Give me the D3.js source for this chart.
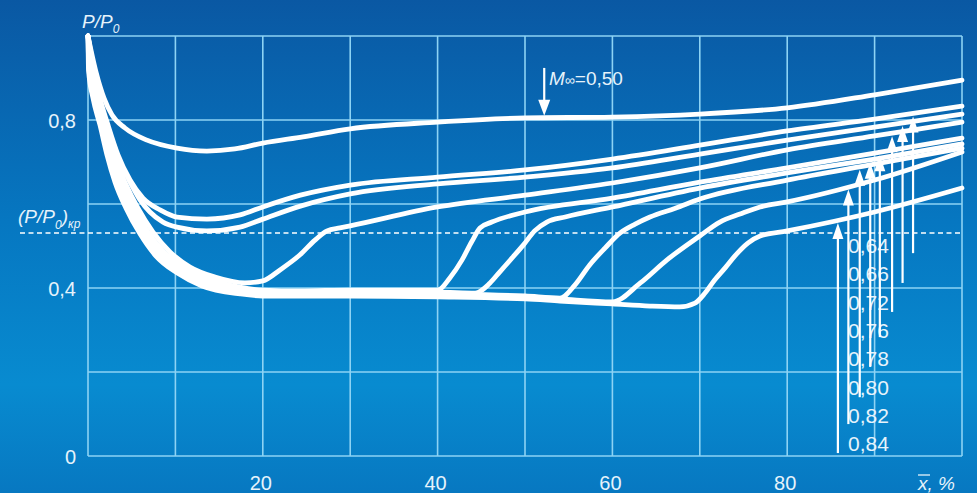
<!DOCTYPE html>
<html>
<head>
<meta charset="utf-8">
<script src="https://cdn.jsdelivr.net/npm/d3@7"></script>
<style>
  html, body { margin: 0; padding: 0; overflow: hidden; background: #0a6fb8; }
  svg { display: block; }
  text { fill: #e6f3fb; font-family: "Liberation Sans Narrow", "Liberation Sans", Arial, sans-serif; }
</style>
</head>
<body>
<div id="chart"></div>
<script>
/*** DADOS : x = x̄ em %, y = P/P0 ***/

var m050 = [[0, 1.0], [0.92, 0.914], [1.83, 0.852], [2.75, 0.812], [4.23, 0.781], [6.75, 0.752], [10.18, 0.733],
    [13.6, 0.726], [16.8, 0.731], [20, 0.745], [24.6, 0.760], [30, 0.779], [40, 0.795], [50, 0.805],
    [60, 0.807], [70, 0.814], [80, 0.829], [90, 0.860], [100, 0.895]];

var m064 = [[0, 1.0], [0.69, 0.919], [1.37, 0.852], [2.29, 0.788], [3.43, 0.717], [4.81, 0.657], [6.29, 0.614],
    [8.24, 0.586], [10.18, 0.569], [13.6, 0.564], [17.4, 0.574], [20, 0.593], [24.3, 0.621], [30, 0.645],
    [40, 0.664], [50, 0.681], [60, 0.707], [70, 0.740], [80, 0.774], [90, 0.802], [100, 0.833]];

var m066 = [[0, 1.0], [0.57, 0.919], [1.26, 0.852], [2.17, 0.788], [3.32, 0.717], [4.69, 0.657], [5.95, 0.610],
    [7.09, 0.581], [8.58, 0.557], [10.18, 0.545], [13.6, 0.536], [17.4, 0.545], [20, 0.564], [24.3, 0.595],
    [30, 0.624], [40, 0.648], [50, 0.664], [60, 0.686], [70, 0.719], [80, 0.752], [90, 0.783], [100, 0.814]];

var m072 = [[0, 1.0], [0.57, 0.919], [1.14, 0.852], [1.95, 0.788], [2.97, 0.717], [4.23, 0.652], [5.72, 0.590],
    [7.44, 0.533], [9.38, 0.486], [11.67, 0.450], [14.53, 0.426], [17.96, 0.412], [20, 0.417], [21.97, 0.443],
    [24.26, 0.479], [25.97, 0.514], [27.35, 0.536], [28.83, 0.543], [30, 0.548], [40, 0.593], [50, 0.621],
    [60, 0.650], [70, 0.686], [80, 0.729], [90, 0.762], [100, 0.795]];

var m076 = [[0, 1.0], [0.46, 0.919], [1.03, 0.852], [1.83, 0.788], [2.75, 0.717], [3.89, 0.652], [5.26, 0.590],
    [6.86, 0.533], [8.70, 0.486], [11.1, 0.448], [13.96, 0.421], [17.39, 0.402], [20, 0.395], [24.26, 0.393],
    [30, 0.395], [35.7, 0.395], [40, 0.395], [41.4, 0.424], [42.8, 0.467], [43.9, 0.510], [44.85, 0.543],
    [46.2, 0.557], [50, 0.581], [60, 0.614], [70, 0.652], [80, 0.686], [90, 0.721], [100, 0.757]];

var m078 = [[0, 1.0], [0.34, 0.919], [0.92, 0.852], [1.72, 0.788], [2.63, 0.717], [3.66, 0.652], [5.03, 0.590],
    [6.64, 0.533], [8.47, 0.486], [10.87, 0.445], [13.73, 0.417], [17.39, 0.398], [20, 0.390], [24.26, 0.388],
    [30, 0.390], [40, 0.390], [44.3, 0.388], [46, 0.412], [47.1, 0.438], [48.5, 0.471], [49.8, 0.502],
    [51.1, 0.536], [52.5, 0.557], [54.6, 0.569], [60, 0.593], [70, 0.638], [80, 0.674], [90, 0.707], [100, 0.743]];

var m080 = [[0, 1.0], [0.23, 0.919], [0.80, 0.852], [1.60, 0.788], [2.52, 0.717], [3.55, 0.652], [4.81, 0.590],
    [6.41, 0.533], [8.24, 0.483], [10.64, 0.443], [13.5, 0.412], [17.39, 0.393], [20, 0.388], [30, 0.388],
    [40, 0.386], [50, 0.381], [54, 0.376], [55.7, 0.407], [57.4, 0.455], [59.15, 0.495], [60.9, 0.531],
    [62.6, 0.552], [64.3, 0.569], [67.2, 0.590], [70, 0.612], [80, 0.657], [90, 0.695], [100, 0.733]];

var m082 = [[0, 1.0], [0.11, 0.919], [0.69, 0.852], [1.49, 0.788], [2.40, 0.717], [3.32, 0.652], [4.58, 0.590],
    [6.18, 0.531], [8.0, 0.481], [10.4, 0.440], [13.27, 0.410], [17.39, 0.390], [20, 0.386], [30, 0.386],
    [40, 0.383], [50, 0.379], [54, 0.374], [60, 0.367], [63.2, 0.412], [66.25, 0.467], [70, 0.524],
    [72.3, 0.557], [74.6, 0.576], [76.9, 0.593], [80, 0.605], [90, 0.657], [100, 0.724]];

var m084 = [[0, 1.0], [0.06, 0.919], [0.57, 0.852], [1.37, 0.788], [2.17, 0.717], [3.09, 0.652], [4.35, 0.590],
    [5.95, 0.529], [7.78, 0.476], [10.18, 0.436], [13.04, 0.405], [17.39, 0.386], [20, 0.381], [30, 0.381],
    [40, 0.379], [50, 0.374], [54, 0.369], [60, 0.362], [64.3, 0.357], [67.7, 0.355], [69.45, 0.364],
    [70.6, 0.388], [71.7, 0.419], [72.9, 0.448], [74.0, 0.476], [75.5, 0.507], [76.9, 0.524], [80, 0.536],
    [90, 0.581], [100, 0.638]];

// curvas com seta em baixo (da direita para a esquerda)
var setaCurvas = [m064, m066, m072, m076, m078, m080, m082, m084];
var setaLabels = ["0,64", "0,66", "0,72", "0,76", "0,78", "0,80", "0,82", "0,84"];
var setaX = [94.4, 93.2, 92.0, 90.6, 89.5, 88.3, 87.0, 85.8];
var setaFundo = [0.483, 0.412, 0.343, 0.283, 0.212, 0.140, 0.076, 0.007];

// seta da curva M=0,50
var seta050X = 52.2;
var seta050Topo = 0.924;

var xTicks = [20, 40, 60, 80];
var yTicks = [0.8, 0.4, 0];
var pCrit = 0.531;

/*** DESENHO ***/
var width = 977;
var height = 493;

var x = d3.scaleLinear().domain([0, 100]).range([88, 962]);
var y = d3.scaleLinear().domain([0, 1]).range([456, 36]);

var svg = d3.select('#chart').append('svg')
    .attr('width', width)
    .attr('height', height);

var grad = svg.append('defs').append('linearGradient')
    .attr('id', 'fundo')
    .attr('x1', 0).attr('y1', 0).attr('x2', 0).attr('y2', 1);
grad.append('stop').attr('offset', '0%').attr('stop-color', '#0a58a3');
grad.append('stop').attr('offset', '45%').attr('stop-color', '#0677c1');
grad.append('stop').attr('offset', '78%').attr('stop-color', '#088bd0');
grad.append('stop').attr('offset', '100%').attr('stop-color', '#0778c1');

svg.append('rect')
    .attr('width', width).attr('height', height)
    .attr('fill', 'url(#fundo)');

// grelha
var grid = svg.append('g').attr('stroke', '#8dd3f4').attr('stroke-width', 1.6);
grid.selectAll('line.v')
    .data(x.ticks(10))
    .enter().append('line')
    .attr('class', 'v')
    .attr('x1', d => x(d)).attr('x2', d => x(d))
    .attr('y1', y(0)).attr('y2', y(1));
grid.selectAll('line.h')
    .data(y.ticks(5))
    .enter().append('line')
    .attr('class', 'h')
    .attr('x1', x(0)).attr('x2', x(100))
    .attr('y1', d => y(d)).attr('y2', d => y(d));

// linha critica tracejada
svg.append('line')
    .attr('x1', 20).attr('x2', x(100))
    .attr('y1', y(pCrit)).attr('y2', y(pCrit))
    .attr('stroke', '#ffffff')
    .attr('stroke-width', 1.5)
    .attr('stroke-dasharray', '5,3.5');

// eixos - textos
svg.selectAll('text.ytick')
    .data(yTicks)
    .enter().append('text')
    .attr('class', 'ytick')
    .attr('x', 76)
    .attr('y', d => y(d) + 8)
    .attr('text-anchor', 'end')
    .attr('font-size', 20)
    .text(d => d === 0 ? '0' : String(d).replace('.', ','));

svg.selectAll('text.xtick')
    .data(xTicks)
    .enter().append('text')
    .attr('class', 'xtick')
    .attr('x', d => x(d) - 2)
    .attr('y', 490)
    .attr('text-anchor', 'middle')
    .attr('font-size', 20)
    .text(d => d);

var tY = svg.append('text').attr('x', 82).attr('y', 28).attr('font-size', 19).attr('font-style', 'italic');
tY.append('tspan').text('P/P');
tY.append('tspan').attr('font-size', 12).attr('dy', 5).text('0');

var tC = svg.append('text').attr('x', 18).attr('y', 223).attr('font-size', 19).attr('font-style', 'italic');
tC.append('tspan').text('(P/P');
tC.append('tspan').attr('font-size', 12).attr('dy', 6).text('0');
tC.append('tspan').attr('dy', -6).text(')');
tC.append('tspan').attr('font-size', 12).attr('dy', 5).text('кр');

var tX = svg.append('text').attr('x', 918).attr('y', 490).attr('font-size', 19).attr('font-style', 'italic');
tX.append('tspan').text('x');
tX.append('tspan').text(', %');
svg.append('line')
    .attr('x1', 918).attr('x2', 930)
    .attr('y1', 475).attr('y2', 475)
    .attr('stroke', '#e6f3fb').attr('stroke-width', 1.3);

// rotulos M
svg.selectAll('text.mlab')
    .data(setaLabels)
    .enter().append('text')
    .attr('class', 'mlab')
    .attr('x', 848)
    .attr('y', (d, i) => 253 + i * 28.3)
    .attr('font-size', 21)
    .text(d => d);

var tM = svg.append('text').attr('x', 549).attr('y', 85).attr('font-size', 19);
tM.append('tspan').attr('font-style', 'italic').text('M');
tM.append('tspan').attr('font-size', 14).text('∞');
tM.append('tspan').text('=0,50');

// curvas
var line = d3.line()
    .x(d => x(d[0]))
    .y(d => y(d[1]))
    .curve(d3.curveMonotoneX);

var curvas = [m050, m064, m066, m072, m076, m078, m080, m082, m084];
svg.append('g').selectAll('path')
    .data(curvas)
    .enter().append('path')
    .attr('d', line)
    .attr('fill', 'none')
    .attr('stroke', '#ffffff')
    .attr('stroke-width', 4.8)
    .attr('stroke-linecap', 'round')
    .attr('stroke-linejoin', 'round');

// valor de uma curva em xv (interpolacao linear)
function valorEm(curva, xv) {
    for (var i = 1; i < curva.length; i++) {
        if (curva[i][0] >= xv) {
            var a = curva[i - 1], b = curva[i];
            return a[1] + (b[1] - a[1]) * (xv - a[0]) / (b[0] - a[0]);
        }
    }
    return curva[curva.length - 1][1];
}

// setas
var setas = svg.append('g');
setaCurvas.forEach(function (c, i) {
    var sx = x(setaX[i]);
    var tip = y(valorEm(c, setaX[i])) + 3;
    setas.append('line')
        .attr('x1', sx).attr('x2', sx)
        .attr('y1', tip + 10).attr('y2', y(setaFundo[i]))
        .attr('stroke', '#ffffff')
        .attr('stroke-width', 2.2);
    setas.append('path')
        .attr('d', 'M' + sx + ',' + tip + 'L' + (sx - 5.5) + ',' + (tip + 16) + 'L' + (sx + 5.5) + ',' + (tip + 16) + 'Z')
        .attr('fill', '#ffffff');
});

var s5x = x(seta050X);
var s5tip = y(valorEm(m050, seta050X)) - 2;
setas.append('line')
    .attr('x1', s5x).attr('x2', s5x)
    .attr('y1', y(seta050Topo)).attr('y2', s5tip - 10)
    .attr('stroke', '#ffffff')
    .attr('stroke-width', 2.2);
setas.append('path')
    .attr('d', 'M' + s5x + ',' + s5tip + 'L' + (s5x - 6) + ',' + (s5tip - 16) + 'L' + (s5x + 6) + ',' + (s5tip - 16) + 'Z')
    .attr('fill', '#ffffff');
</script>
</body>
</html>
